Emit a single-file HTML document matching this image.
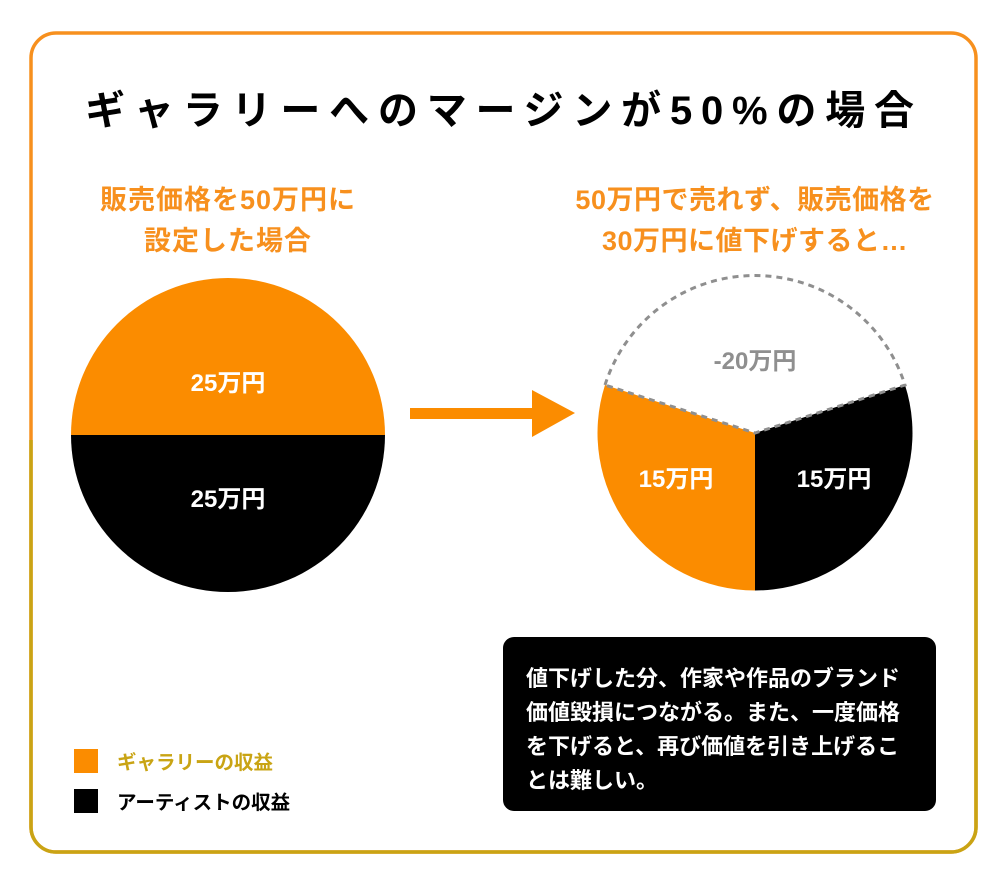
<!DOCTYPE html>
<html><head><meta charset="utf-8"><style>
html,body{margin:0;padding:0;background:#fff}
svg text{font-family:"Liberation Sans","Noto Sans CJK JP",sans-serif;font-weight:bold}
</style></head><body>
<svg width="1008" height="887" viewBox="0 0 1008 887" xmlns="http://www.w3.org/2000/svg">
<defs><clipPath id="lo"><rect x="0" y="440" width="1008" height="447"/></clipPath></defs>
<rect x="31" y="33" width="945" height="819" rx="25" fill="none" stroke="#f7901e" stroke-width="3.5"/>
<rect x="31" y="33" width="945" height="819" rx="25" fill="none" stroke="#c9a414" stroke-width="3.5" clip-path="url(#lo)"/>
<text x="504" y="124" text-anchor="middle" font-size="40" letter-spacing="8.8" fill="#000">ギャラリーへのマージンが50%の場合</text>
<text x="228" y="209" text-anchor="middle" font-size="27" letter-spacing="1" fill="#f7901e">販売価格を50万円に</text>
<text x="228" y="250" text-anchor="middle" font-size="27" letter-spacing="1" fill="#f7901e">設定した場合</text>
<text x="755" y="209" text-anchor="middle" font-size="27" letter-spacing="0.5" fill="#f7901e">50万円で売れず、販売価格を</text>
<text x="755" y="250" text-anchor="middle" font-size="27" letter-spacing="0.5" fill="#f7901e">30万円に値下げすると…</text>
<!-- left pie -->
<path d="M71,435 A157,157 0 0 1 385,435 Z" fill="#fb8c00"/>
<path d="M71,435 A157,157 0 0 0 385,435 Z" fill="#000"/>
<text x="228" y="391" text-anchor="middle" font-size="24" fill="#fff">25万円</text>
<text x="228" y="507" text-anchor="middle" font-size="24" fill="#fff">25万円</text>
<!-- arrow -->
<rect x="410" y="408" width="130" height="11" fill="#fb8c00"/>
<polygon points="532,390 575,413 532,437" fill="#fb8c00"/>
<!-- right pie -->
<path d="M755,433 L605,385 A157.5,157.5 0 0 0 755,590.5 Z" fill="#fb8c00"/>
<path d="M755,433 L755,590.5 A157.5,157.5 0 0 0 905,385 Z" fill="#000"/>
<path d="M605,385 A157.5,157.5 0 0 1 905,385 L755,433 Z" fill="none" stroke="#8f8f8f" stroke-width="3" stroke-dasharray="6,5"/>
<text x="755" y="369" text-anchor="middle" font-size="24" fill="#8f8f8f">-20万円</text>
<text x="676" y="487" text-anchor="middle" font-size="24" fill="#fff">15万円</text>
<text x="834" y="487" text-anchor="middle" font-size="24" fill="#fff">15万円</text>
<!-- box -->
<rect x="503" y="637" width="433" height="174" rx="11" fill="#000"/>
<g font-size="22" fill="#fff">
<text x="526" y="686">値下げした分、作家や作品のブランド</text>
<text x="526" y="720">価値毀損につながる。また、一度価格</text>
<text x="526" y="754">を下げると、再び価値を引き上げるこ</text>
<text x="526" y="788">とは難しい。</text>
</g>
<!-- legend -->
<rect x="74" y="749" width="24" height="24" fill="#fb8c00"/>
<text x="117" y="769" font-size="19.5" fill="#c9a414">ギャラリーの収益</text>
<rect x="74" y="789" width="24" height="24" fill="#000"/>
<text x="117" y="809" font-size="19.5" fill="#000">アーティストの収益</text>
</svg>
</body></html>
